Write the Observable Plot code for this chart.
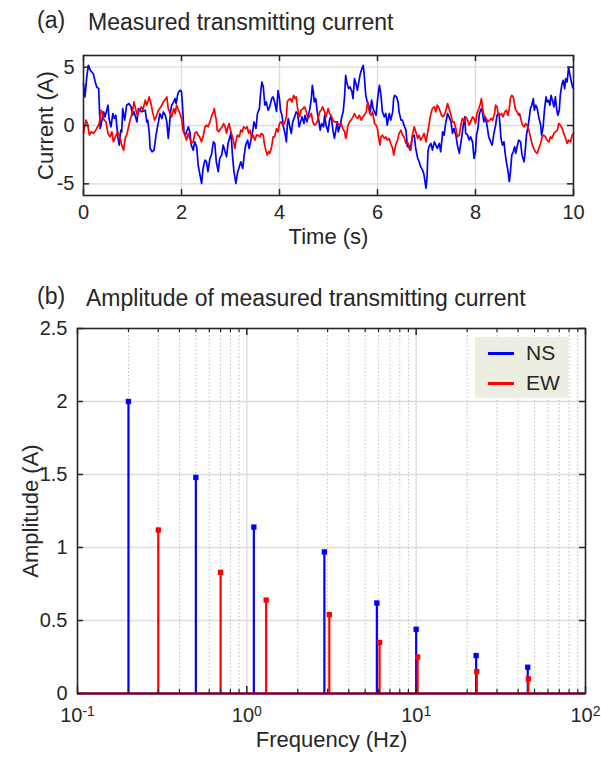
<!DOCTYPE html>
<html><head><meta charset="utf-8">
<script src="https://cdn.jsdelivr.net/npm/d3@7"></script>
<script src="https://cdn.jsdelivr.net/npm/@observablehq/plot@0.6"></script>
<style>
body{margin:0;background:#fff;}
#wrap{position:relative;width:601px;height:765px;font-family:Helvetica,"Liberation Sans",Arial,sans-serif;color:#262626;overflow:hidden;}
.ttl{position:absolute;font-size:23px;white-space:nowrap;line-height:1;}
#wrap svg{position:absolute;left:0;}
.leg{position:absolute;left:475px;top:337px;width:93px;height:61px;background:#ebeee0;}
.leg .row{position:absolute;left:13px;height:22px;font-size:21px;line-height:22px;white-space:nowrap;}
.leg .sw{display:inline-block;width:26px;height:3px;vertical-align:middle;margin-right:12px;position:relative;top:-1px;}
</style></head><body><div id="wrap"></div>
<script>
// ---- Panel (a): measured transmitting current, [time (s), current (A)] readings ----
const nsTrace = [
[0.00,3.59],[0.03,2.45],[0.07,4.30],[0.10,5.16],[0.14,4.73],[0.17,4.59],[0.20,4.44],[0.24,3.73],[0.27,3.30],[0.31,3.16],
[0.34,-0.26],[0.37,0.31],[0.41,1.17],[0.44,0.74],[0.50,1.74],[0.52,0.60],[0.56,-0.11],[0.60,1.03],[0.63,0.60],[0.66,0.88],
[0.70,-0.97],[0.73,-1.68],[0.76,-0.40],[0.78,-0.54],[0.80,1.45],[0.84,0.46],[0.88,1.74],[0.93,1.88],[0.97,1.60],[1.00,0.88],
[1.03,1.17],[1.09,0.31],[1.12,1.45],[1.19,1.17],[1.26,1.31],[1.29,0.31],[1.31,0.46],[1.34,-0.54],[1.36,-1.97],[1.40,-2.25],
[1.44,-2.11],[1.48,-0.83],[1.51,-0.11],[1.53,0.31],[1.56,1.03],[1.60,0.60],[1.63,1.17],[1.67,0.88],[1.70,0.31],[1.73,-1.11],
[1.76,0.31],[1.78,1.31],[1.80,1.74],[1.84,2.02],[1.87,2.31],[1.89,1.88],[1.92,2.59],[1.94,2.88],[1.98,3.02],
[2.00,2.88],[2.02,1.74],[2.05,-0.54],[2.08,-0.83],[2.14,-0.11],[2.17,-0.54],[2.20,-1.68],[2.24,-2.11],[2.27,-1.40],[2.31,-1.82],
[2.34,-3.39],[2.39,-4.53],[2.41,-4.96],[2.44,-3.68],[2.48,-2.96],[2.51,-3.11],[2.54,-3.96],[2.58,-2.82],[2.61,-2.54],[2.65,-1.40],
[2.68,-1.54],[2.71,-3.11],[2.75,-3.96],[2.78,-2.82],[2.82,-2.54],[2.85,-1.68],[2.88,-2.11],[2.92,-2.68],[2.95,-1.54],[2.99,-0.97],
[3.01,-0.54],[3.04,-2.54],[3.07,-3.96],[3.11,-4.96],[3.14,-4.10],[3.18,-3.53],[3.21,-3.11],[3.25,-3.68],[3.28,-2.54],[3.31,-1.68],
[3.35,-1.25],[3.38,-1.97],[3.41,-1.40],[3.45,-0.54],[3.48,0.31],[3.52,-0.26],[3.55,1.03],[3.59,1.45],[3.61,2.59],[3.64,3.73],
[3.67,3.30],[3.70,1.74],[3.73,2.02],[3.77,1.31],[3.80,1.60],[3.84,2.31],[3.87,2.45],[3.90,2.02],[3.94,1.20],[3.97,3.00],
[4.00,2.31],[4.02,1.31],[4.05,0.88],[4.08,-0.11],[4.12,-0.83],[4.14,-1.40],[4.16,0.03],[4.18,0.60],[4.21,-0.11],[4.24,-0.68],
[4.27,0.31],[4.31,0.74],[4.34,1.17],[4.37,1.03],[4.40,-0.11],[4.43,0.31],[4.46,0.74],[4.50,0.17],[4.52,0.88],[4.56,0.31],
[4.59,0.88],[4.62,1.45],[4.65,2.31],[4.67,3.45],[4.69,2.88],[4.71,2.02],[4.74,2.31],[4.77,1.17],[4.80,0.46],[4.83,-0.40],
[4.86,0.17],[4.90,-0.11],[4.92,0.88],[4.95,0.03],[4.99,-0.54],[5.02,0.46],[5.05,0.88],[5.09,-0.40],[5.12,-1.11],[5.15,-0.40],
[5.18,0.31],[5.20,-0.54],[5.24,0.03],[5.27,0.74],[5.30,1.17],[5.33,2.59],[5.35,4.30],[5.38,3.59],[5.41,3.16],[5.44,3.30],
[5.48,2.88],[5.50,2.31],[5.53,4.02],[5.56,3.59],[5.59,3.02],[5.63,4.02],[5.65,4.44],[5.68,4.87],[5.71,5.16],[5.73,4.30],
[5.76,2.59],[5.79,2.02],[5.82,1.74],[5.85,1.17],[5.88,2.17],[5.91,1.45],[5.94,1.17],[5.97,0.88],
[6.00,2.17],[6.02,2.88],[6.04,3.45],[6.07,2.59],[6.10,1.17],[6.14,0.74],[6.17,1.03],[6.20,0.03],[6.24,1.03],[6.27,0.46],
[6.31,1.17],[6.33,2.31],[6.35,2.59],[6.39,2.45],[6.42,2.02],[6.44,1.17],[6.48,0.46],[6.51,0.46],[6.54,0.03],[6.58,-0.40],
[6.61,-1.82],[6.63,-1.68],[6.66,-2.11],[6.69,-1.54],[6.71,-0.97],[6.75,-0.83],[6.78,-1.97],[6.82,-2.82],[6.85,-3.11],[6.88,-3.53],
[6.92,-3.82],[6.95,-4.25],[6.99,-5.38],[7.01,-4.53],[7.03,-2.25],[7.05,-1.82],[7.09,-1.54],[7.12,-2.11],[7.16,-1.40],[7.19,-1.68],
[7.22,-1.97],[7.26,-1.54],[7.29,-2.25],[7.33,-0.54],[7.36,-0.83],[7.39,0.17],[7.43,1.03],[7.46,0.74],[7.50,0.31],[7.53,-0.68],
[7.56,-0.26],[7.60,-0.83],[7.63,-1.68],[7.67,-2.39],[7.69,-1.82],[7.72,-0.97],[7.75,0.03],[7.78,0.74],[7.80,-0.68],[7.84,-0.83],
[7.87,-1.25],[7.90,-0.97],[7.94,-1.40],[7.97,-2.82],
[8.00,-2.25],[8.02,-0.83],[8.05,-0.26],[8.08,1.03],[8.12,1.45],[8.14,1.17],[8.17,0.31],[8.20,0.74],[8.24,-0.11],[8.27,-0.97],
[8.31,-1.40],[8.34,-1.68],[8.37,-0.83],[8.41,0.03],[8.44,0.88],[8.48,1.03],[8.50,0.03],[8.52,-1.11],[8.55,-1.68],[8.58,-1.40],
[8.61,-2.54],[8.63,-3.11],[8.66,-3.82],[8.69,-4.81],[8.71,-4.10],[8.74,-2.54],[8.77,-2.25],[8.80,-1.82],[8.82,-2.39],[8.85,-1.82],
[8.88,-1.25],[8.92,-1.40],[8.95,-2.54],[8.99,-3.11],[9.01,-2.39],[9.04,-0.83],[9.07,-0.11],[9.10,0.74],[9.12,1.45],[9.15,1.74],
[9.18,2.31],[9.20,1.31],[9.23,1.74],[9.26,1.45],[9.29,0.74],[9.33,0.03],[9.35,-0.83],[9.38,-0.11],[9.41,1.45],[9.44,2.45],
[9.46,2.02],[9.49,2.17],[9.52,1.74],[9.54,2.59],[9.57,2.17],[9.60,1.60],[9.63,2.45],[9.65,1.60],[9.68,0.88],[9.71,1.31],
[9.73,2.59],[9.76,3.45],[9.79,3.87],[9.82,3.16],[9.84,4.02],[9.87,3.73],[9.90,5.01],[9.93,4.30],[9.95,3.87],[9.98,3.30],[10.00,3.16]
];
const ewTrace = [
[0.00,-0.68],[0.05,0.46],[0.08,0.17],[0.12,-0.83],[0.16,-0.54],[0.20,-0.68],[0.25,-0.40],[0.29,-0.11],[0.32,0.17],[0.36,1.31],
[0.39,1.03],[0.42,0.46],[0.46,0.31],[0.50,-0.68],[0.54,-0.97],[0.58,-0.54],[0.61,-1.40],[0.65,-0.97],[0.70,-0.54],[0.75,-1.11],
[0.78,-1.68],[0.82,-2.11],[0.85,-1.11],[0.88,-0.83],[0.92,-0.11],[0.95,0.46],[0.99,1.03],[1.03,2.02],[1.07,1.31],[1.10,0.88],
[1.14,1.31],[1.18,1.60],[1.21,1.31],[1.26,2.17],[1.29,1.74],[1.34,2.45],[1.37,2.02],[1.41,1.17],[1.45,0.46],[1.48,0.74],
[1.53,1.31],[1.58,1.60],[1.63,2.02],[1.70,2.45],[1.73,1.45],[1.77,1.03],[1.80,0.74],[1.84,1.45],[1.87,1.03],[1.90,1.74],
[1.94,1.31],[1.97,1.00],
[2.00,0.60],[2.03,-0.40],[2.07,-0.83],[2.10,-1.25],[2.14,-0.68],[2.17,-1.11],[2.20,-1.54],[2.24,-1.40],[2.27,-0.68],[2.31,-0.54],
[2.34,-0.83],[2.37,-0.97],[2.41,-1.40],[2.44,-0.97],[2.48,-0.11],[2.51,0.03],[2.54,-0.11],[2.58,0.31],[2.61,0.74],[2.65,1.17],
[2.67,1.45],[2.69,0.88],[2.71,0.46],[2.73,-0.40],[2.76,-0.54],[2.80,-0.26],[2.83,-0.11],[2.86,0.17],[2.89,-0.11],[2.92,-0.68],
[2.94,-0.26],[2.97,0.17],[3.00,-0.40],[3.03,-0.83],[3.05,-1.11],[3.09,-1.97],[3.11,-1.40],[3.14,-0.83],[3.18,-0.97],[3.21,-0.40],
[3.24,-0.54],[3.27,-0.11],[3.31,-0.26],[3.34,-0.11],[3.37,-0.68],[3.40,-0.40],[3.43,-1.11],[3.46,-0.83],[3.50,-1.25],[3.53,-0.83],
[3.56,-0.83],[3.60,-0.97],[3.63,-0.68],[3.67,-0.83],[3.69,-1.54],[3.72,-2.11],[3.75,-2.54],[3.78,-2.25],[3.80,-2.39],[3.84,-1.82],
[3.87,-0.97],[3.90,-0.97],[3.94,-0.26],[3.97,-0.54],
[4.00,0.17],[4.03,0.31],[4.07,0.03],[4.10,0.17],[4.14,0.74],[4.16,2.02],[4.18,2.17],[4.22,2.31],[4.25,2.02],[4.29,2.59],
[4.32,2.31],[4.34,2.45],[4.37,1.45],[4.41,0.74],[4.44,1.31],[4.48,1.45],[4.51,1.60],[4.54,1.31],[4.58,0.60],[4.61,0.74],
[4.65,1.03],[4.68,0.31],[4.71,0.03],[4.75,0.17],[4.78,0.46],[4.82,1.17],[4.85,1.31],[4.88,1.60],[4.92,1.17],[4.95,0.74],
[4.99,1.45],[5.02,1.03],[5.05,0.88],[5.09,0.46],[5.12,0.31],[5.16,0.31],[5.19,0.17],[5.22,0.03],[5.26,0.17],[5.29,-0.26],
[5.33,-0.54],[5.35,-1.11],[5.37,-0.83],[5.39,-0.11],[5.43,0.31],[5.46,0.46],[5.50,0.74],[5.53,1.03],[5.56,0.74],[5.60,0.60],
[5.63,0.88],[5.67,0.46],[5.70,0.74],[5.73,0.88],[5.77,1.17],[5.80,2.02],[5.84,1.03],[5.87,0.88],[5.90,1.17],[5.94,0.17],[5.97,0.03],
[6.00,-0.26],[6.02,-0.97],[6.05,-1.68],[6.07,-0.97],[6.10,-0.83],[6.14,-1.11],[6.17,-0.97],[6.20,-1.25],[6.24,-1.11],[6.27,-1.54],
[6.31,-1.97],[6.33,-2.54],[6.35,-2.11],[6.37,-1.68],[6.41,-1.25],[6.44,-0.68],[6.48,-0.40],[6.51,-0.83],[6.54,-0.97],[6.58,-1.54],
[6.61,-1.40],[6.65,-1.82],[6.68,-2.11],[6.71,-0.83],[6.75,-0.11],[6.78,-0.54],[6.82,-1.11],[6.85,-0.83],[6.88,-1.25],[6.92,-0.97],
[6.95,-0.68],[6.99,-1.40],[7.02,-0.68],[7.05,0.03],[7.09,1.03],[7.12,1.45],[7.16,1.60],[7.19,1.17],[7.22,1.74],[7.26,1.45],
[7.29,1.03],[7.33,0.74],[7.36,0.88],[7.39,1.17],[7.43,1.88],[7.46,1.45],[7.50,0.88],[7.53,0.31],[7.56,0.31],[7.60,-0.26],
[7.63,-0.97],[7.67,-0.83],[7.70,0.03],[7.73,0.60],[7.77,0.31],[7.80,0.74],[7.84,0.46],[7.87,0.03],[7.90,0.31],[7.94,0.74],[7.97,0.60],
[8.00,0.17],[8.03,1.03],[8.07,1.45],[8.10,1.88],[8.12,2.31],[8.15,1.31],[8.18,0.74],[8.22,0.60],[8.25,0.31],[8.29,0.46],
[8.32,0.60],[8.35,0.46],[8.39,1.03],[8.41,1.74],[8.44,1.60],[8.46,1.03],[8.50,0.88],[8.53,1.03],[8.56,0.74],[8.60,1.17],
[8.63,1.31],[8.66,0.88],[8.69,1.45],[8.71,2.31],[8.74,2.59],[8.77,2.45],[8.80,1.74],[8.82,1.31],[8.85,1.17],[8.88,0.88],
[8.90,1.03],[8.93,0.46],[8.96,0.03],[8.99,-0.11],[9.02,0.17],[9.05,0.03],[9.09,-0.40],[9.12,-0.97],[9.16,-1.68],[9.19,-1.97],
[9.22,-2.25],[9.26,-2.39],[9.29,-1.97],[9.33,-1.54],[9.36,-0.97],[9.39,-0.83],[9.43,-0.97],[9.46,-1.25],[9.50,-1.40],[9.53,-0.97],
[9.56,-1.11],[9.60,-0.68],[9.63,-0.54],[9.67,-0.40],[9.70,0.17],[9.73,0.03],[9.77,-0.26],[9.80,-0.68],[9.84,-1.11],[9.87,-1.54],
[9.90,-1.25],[9.94,-1.40],[9.97,-0.83],[10.00,-0.68]
];
const timeTicks = [0, 2, 4, 6, 8, 10];
const currentTicks = [-5, 0, 5];

// ---- Panel (b): amplitude spectrum ----
const nsFreq = [0.2, 0.5, 1.1, 2.87, 5.86, 10.0, 22.6, 45.6];
const nsAmp  = [2.00, 1.48, 1.14, 0.97, 0.62, 0.44, 0.26, 0.18];
const ewFreq = [0.3, 0.7, 1.3, 3.07, 6.08, 10.2, 22.8, 46.0];
const ewAmp  = [1.12, 0.83, 0.64, 0.54, 0.35, 0.25, 0.15, 0.10];
const freqMajor = [0.1, 1, 10, 100];
const freqMinor = [0.2,0.3,0.4,0.5,0.6,0.7,0.8,0.9, 2,3,4,5,6,7,8,9, 20,30,40,50,60,70,80,90];
const ampTicks = [0, 0.5, 1, 1.5, 2, 2.5];
const seriesNames = ["NS", "EW"];
const seriesColors = ["#0000ff", "#ff0000"];

const FONT = 'Helvetica, "Liberation Sans", Arial, sans-serif';
const ink = "#262626";
const gridCol = "#dcdcdc";
const wrap = document.getElementById("wrap");

// Panel (a)
const AH = 262, aTop = 55, aBot = 67, aL = 83, aR = 28;
const aFH = AH - aTop - aBot, aFW = 601 - aL - aR;
const panelA = Plot.plot({
  width: 601, height: AH,
  marginLeft: aL, marginRight: aR, marginTop: aTop, marginBottom: aBot,
  style: {fontFamily: FONT, fontSize: "20px", color: ink, background: "transparent", overflow: "visible"},
  x: {domain: [0, 10]},
  y: {domain: [-6, 6]},
  marks: [
    Plot.ruleX(timeTicks.slice(1, -1), {stroke: gridCol, strokeWidth: 1.3}),
    Plot.ruleY(currentTicks, {stroke: gridCol, strokeWidth: 1.3}),
    Plot.line(nsTrace, {x: d => d[0], y: d => d[1], stroke: seriesColors[0], strokeWidth: 1.7}),
    Plot.line(ewTrace, {x: d => d[0], y: d => d[1], stroke: seriesColors[1], strokeWidth: 1.7}),
    Plot.tickX(timeTicks, {x: d => d, stroke: ink, strokeWidth: 1.5, insetTop: aFH - 6}),
    Plot.tickX(timeTicks, {x: d => d, stroke: ink, strokeWidth: 1.5, insetBottom: aFH - 6}),
    Plot.tickY(currentTicks, {y: d => d, stroke: ink, strokeWidth: 1.5, insetRight: aFW - 6}),
    Plot.tickY(currentTicks, {y: d => d, stroke: ink, strokeWidth: 1.5, insetLeft: aFW - 6}),
    Plot.frame({stroke: ink, strokeWidth: 1.6}),
    Plot.axisX(timeTicks, {tickSize: 0, tickPadding: 9, label: null, fill: ink, tickFormat: d => String(d)}),
    Plot.axisY(currentTicks, {tickSize: 0, tickPadding: 9, label: null, fill: ink, tickFormat: d => String(d)}),
    Plot.text(["Time (s)"], {frameAnchor: "bottom", dy: 48, fontSize: 22, fill: ink}),
    Plot.text(["Current (A)"], {frameAnchor: "left", textAnchor: "middle", rotate: -90, dx: -38, fontSize: 22, fill: ink})
  ]
});
panelA.style.top = "0px";
wrap.appendChild(panelA);

// Panel (b)
const BT = 262, BH = 765 - BT, bTop = 66, bBot = 72, bL = 77, bR = 16;
const bFH = BH - bTop - bBot, bFW = 601 - bL - bR;
const nsStems = nsFreq.map((f, i) => ({f, a: nsAmp[i]}));
const ewStems = ewFreq.map((f, i) => ({f, a: ewAmp[i]}));
const panelB = Plot.plot({
  width: 601, height: BH,
  marginLeft: bL, marginRight: bR, marginTop: bTop, marginBottom: bBot,
  style: {fontFamily: FONT, fontSize: "20px", color: ink, background: "transparent", overflow: "visible"},
  x: {type: "log", domain: [0.1, 100]},
  y: {domain: [0, 2.5]},
  marks: [
    Plot.ruleY(ampTicks.slice(1, -1), {stroke: gridCol, strokeWidth: 1.3}),
    Plot.ruleX(freqMinor, {stroke: "#b4b4b4", strokeWidth: 1, strokeDasharray: "1.2,2.4"}),
    Plot.ruleX([1, 10], {stroke: gridCol, strokeWidth: 1.3}),
    Plot.ruleY([0], {stroke: seriesColors[0], strokeWidth: 2}),
    Plot.ruleX(nsStems, {x: "f", y1: 0, y2: "a", stroke: seriesColors[0], strokeWidth: 2.2}),
    Plot.dot(nsStems, {x: "f", y: "a", symbol: "square", r: 3, fill: seriesColors[0], stroke: null}),
    Plot.ruleY([0], {stroke: seriesColors[1], strokeWidth: 2}),
    Plot.ruleX(ewStems, {x: "f", y1: 0, y2: "a", stroke: seriesColors[1], strokeWidth: 2.2}),
    Plot.dot(ewStems, {x: "f", y: "a", symbol: "square", r: 3, fill: seriesColors[1], stroke: null}),
    Plot.tickX(freqMajor, {x: d => d, stroke: ink, strokeWidth: 1.5, insetTop: bFH - 7}),
    Plot.tickX(freqMajor, {x: d => d, stroke: ink, strokeWidth: 1.5, insetBottom: bFH - 7}),
    Plot.tickX(freqMinor, {x: d => d, stroke: ink, strokeWidth: 1.2, insetTop: bFH - 4}),
    Plot.tickX(freqMinor, {x: d => d, stroke: ink, strokeWidth: 1.2, insetBottom: bFH - 4}),
    Plot.tickY(ampTicks, {y: d => d, stroke: ink, strokeWidth: 1.5, insetRight: bFW - 6}),
    Plot.tickY(ampTicks, {y: d => d, stroke: ink, strokeWidth: 1.5, insetLeft: bFW - 6}),
    Plot.frame({stroke: ink, strokeWidth: 1.6}),
    Plot.axisX(freqMajor, {tickSize: 0, tickPadding: 14, label: null, fill: ink,
      tickFormat: d => "10^" + Math.round(Math.log10(d))}),
    Plot.axisY(ampTicks, {tickSize: 0, tickPadding: 10, label: null, fill: ink, tickFormat: d => String(d)}),
    Plot.text(["Frequency (Hz)"], {frameAnchor: "bottom", dy: 53, fontSize: 22, fill: ink}),
    Plot.text(["Amplitude (A)"], {frameAnchor: "left", textAnchor: "middle", rotate: -90, dx: -47, fontSize: 22, fill: ink})
  ]
});
panelB.style.top = BT + "px";
wrap.appendChild(panelB);

// superscript exponents on the log-axis labels
d3.select(panelB).selectAll('g[aria-label="x-axis tick label"] text').each(function() {
  const parts = this.textContent.split("^");
  if (parts.length !== 2) return;
  const t = d3.select(this);
  t.text(null);
  t.append("tspan").text(parts[0]);
  t.append("tspan").attr("dy", "-0.4em").attr("font-size", "14px").text(parts[1]);
});

// titles
function addDiv(cls, text, left, top) {
  const d = document.createElement("div");
  d.className = cls; d.textContent = text;
  d.style.left = left + "px"; d.style.top = top + "px";
  wrap.appendChild(d);
  return d;
}
addDiv("ttl", "(a)", 37, 9);
addDiv("ttl", "Measured transmitting current", 88, 11);
addDiv("ttl", "(b)", 37, 285);
addDiv("ttl", "Amplitude of measured transmitting current", 86, 287);

// legend
const leg = document.createElement("div");
leg.className = "leg";
seriesNames.forEach((name, i) => {
  const row = document.createElement("div");
  row.className = "row";
  row.style.top = (5 + i * 30) + "px";
  const sw = document.createElement("span");
  sw.className = "sw"; sw.style.background = seriesColors[i];
  row.appendChild(sw);
  row.appendChild(document.createTextNode(name));
  leg.appendChild(row);
});
wrap.appendChild(leg);
</script></body></html>
